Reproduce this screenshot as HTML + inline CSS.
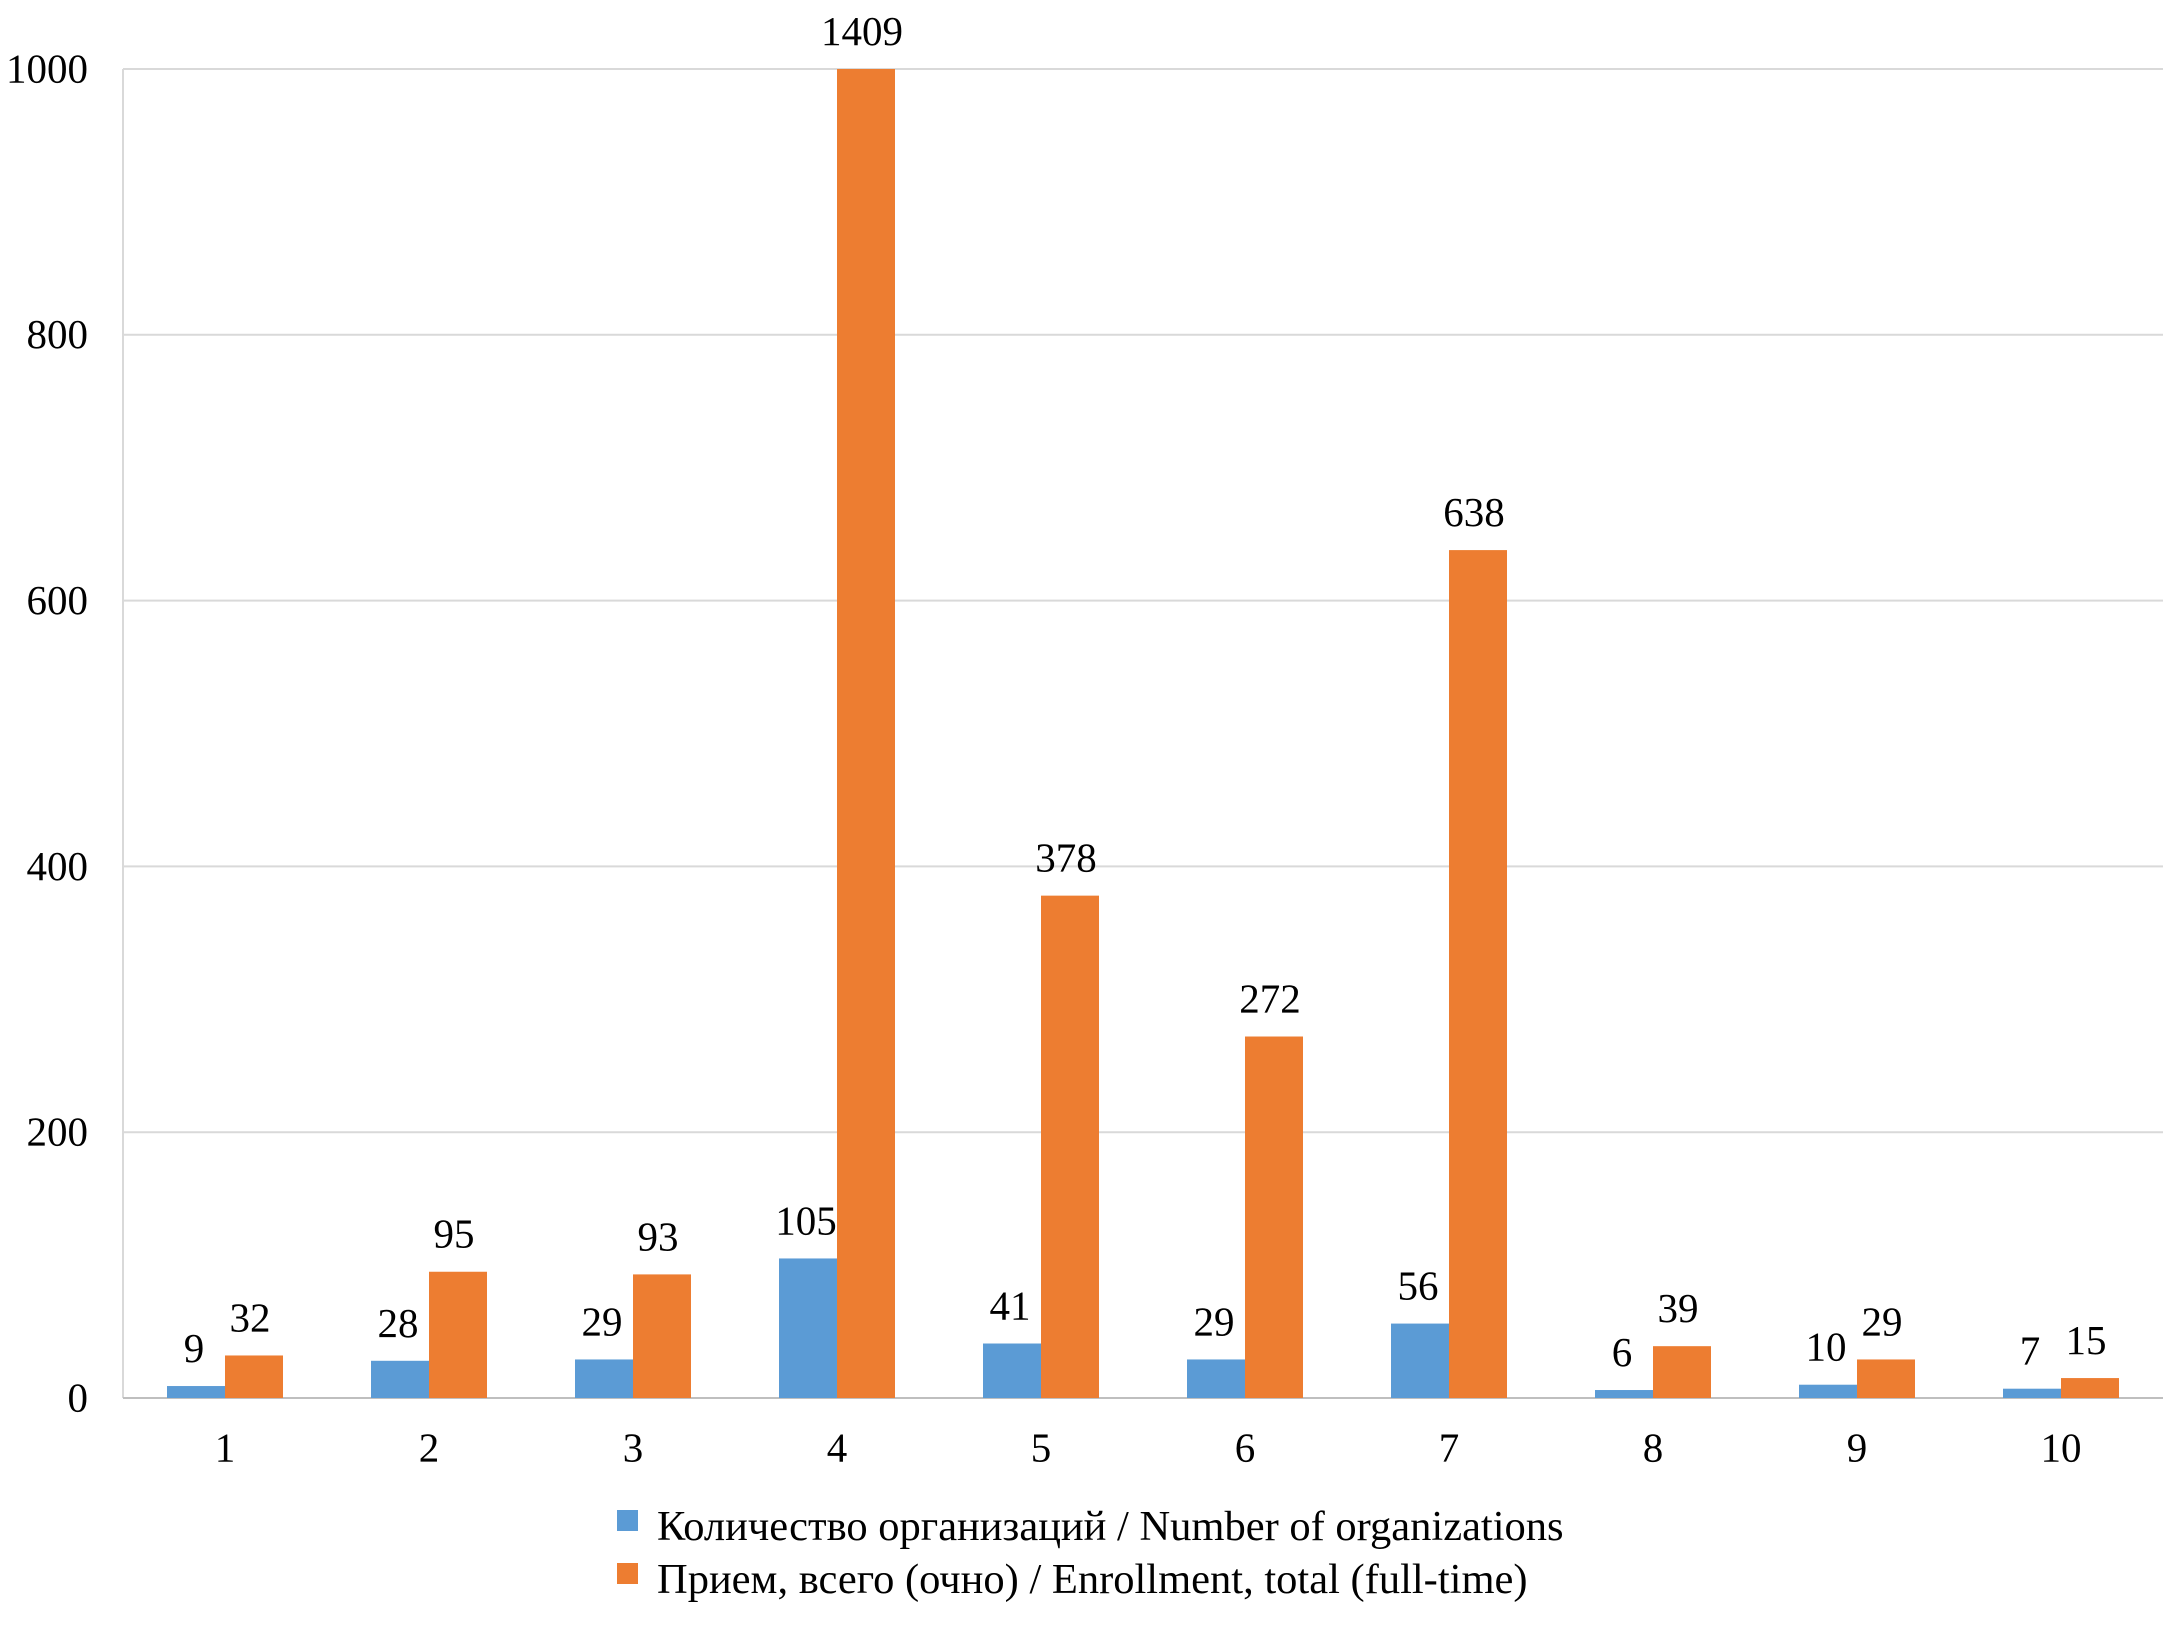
<!DOCTYPE html>
<html><head><meta charset="utf-8"><style>
html,body{margin:0;padding:0;background:#fff;}
svg{display:block;font-family:"Liberation Serif","DejaVu Serif",serif;}
</style></head><body>
<svg id="chart" width="2165" height="1642" viewBox="0 0 2165 1642" xmlns="http://www.w3.org/2000/svg">
<g id="grid"></g>
<g id="yticks"></g>
<g id="bars"></g>
<g id="xticks"></g>
<g>
  <g>
    <rect x="617" y="1510" width="21" height="21" fill="#5b9bd5"/>
    <text x="657" y="1530" font-size="42.5" dominant-baseline="middle">Количество организаций / Number of organizations</text>
  </g>
  <g>
    <rect x="617" y="1563" width="21" height="21" fill="#ed7d31"/>
    <text x="657" y="1583" font-size="42.5" dominant-baseline="middle">Прием, всего (очно) / Enrollment, total (full-time)</text>
  </g>
</g>
</svg>
<script>
const categories = ["1","2","3","4","5","6","7","8","9","10"];
const organizations = [9,28,29,105,41,29,56,6,10,7];
const enrollment = [32,95,93,1409,378,272,638,39,29,15];
const yTicks = [0,200,400,600,800,1000];

const NS="http://www.w3.org/2000/svg";
const plotLeft=123,plotRight=2163,plotTop=69,plotBase=1398,yMax=1000;
const step=(plotRight-plotLeft)/categories.length, bw=58;
const yScale=v=>plotBase-(Math.min(v,yMax)/yMax)*(plotBase-plotTop);
const xc=i=>plotLeft+step*(i+0.5);
function mk(tag,attrs,parent){const e=document.createElementNS(NS,tag);for(const k in attrs)e.setAttribute(k,attrs[k]);parent.appendChild(e);return e;}
const grid=document.getElementById('grid'),yt=document.getElementById('yticks'),bars=document.getElementById('bars'),xt=document.getElementById('xticks');
mk('line',{x1:plotLeft,y1:plotTop,x2:plotLeft,y2:plotBase,stroke:'#d9d9d9','stroke-width':2},grid);
yTicks.forEach(t=>{
  const l=mk('line',{x1:plotLeft,y1:yScale(t),x2:plotRight,y2:yScale(t),stroke:t===0?'#bfbfbf':'#d9d9d9','stroke-width':2},grid);
  
  
  const tx=mk('text',{x:88,y:yScale(t)+4,'font-size':41,'text-anchor':'end','dominant-baseline':'middle'},yt);
  tx.textContent=t;
  
  
});
categories.forEach((c,i)=>{
  const cx=xc(i);
  const b1=mk('rect',{x:cx-bw,y:yScale(organizations[i]),width:bw,height:plotBase-yScale(organizations[i]),fill:'#5b9bd5'},bars);
  
  
  const b2=mk('rect',{x:cx,y:yScale(enrollment[i]),width:bw,height:plotBase-yScale(enrollment[i]),fill:'#ed7d31'},bars);
  
  
  const l1=mk('text',{x:cx-bw/2-2,y:yScale(organizations[i])-24,'font-size':41,'text-anchor':'middle'},bars);
  l1.textContent=organizations[i];
  
  
  const l2=mk('text',{x:cx+bw/2-4,y:yScale(enrollment[i])-24,'font-size':41,'text-anchor':'middle'},bars);
  l2.textContent=enrollment[i];
  
  
  const xl=mk('text',{x:cx,y:1452,'font-size':41,'text-anchor':'middle','dominant-baseline':'middle'},xt);
  xl.textContent=c;
  
  
});
</script>
</body></html>
